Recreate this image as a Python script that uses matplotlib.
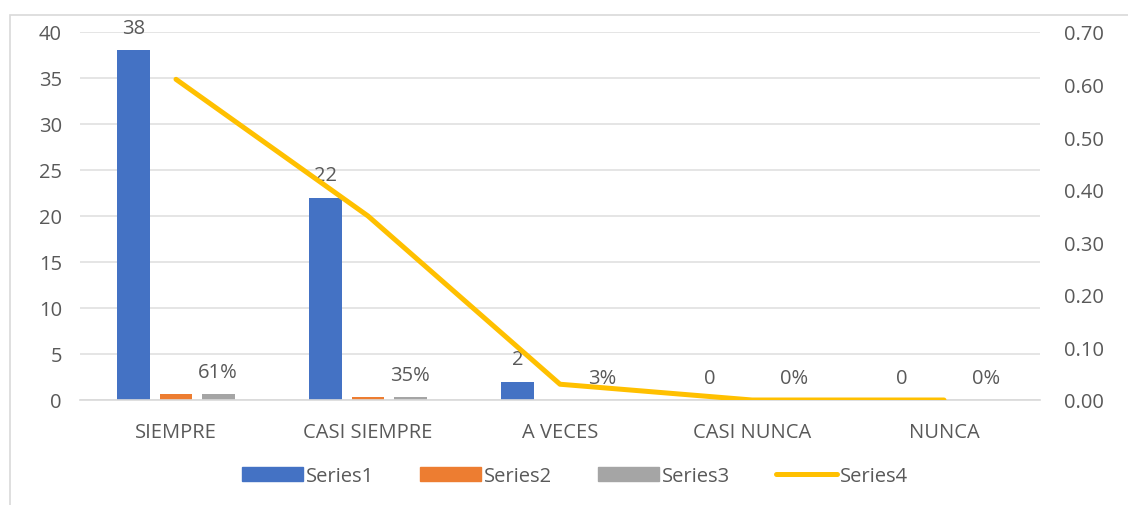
import numpy as np
import matplotlib.pyplot as plt
from matplotlib.patches import Rectangle, Patch
from matplotlib.lines import Line2D

categories = ["SIEMPRE", "CASI SIEMPRE", "A VECES", "CASI NUNCA", "NUNCA"]
series1 = [38, 22, 2, 0, 0]
series2 = [0.61, 0.35, 0.03, 0, 0]
series3 = [0.61, 0.35, 0.03, 0, 0]
series4 = [0.61, 0.35, 0.03, 0, 0]
series3_labels = ["61%", "35%", "3%", "0%", "0%"]

plt.rcParams['font.family'] = ['Open Sans', 'DejaVu Sans']
txt = "#595959"
fs = 14.5

fig = plt.figure(figsize=(11.28, 5.06), dpi=100)
ax = fig.add_axes([80 / 1128, 1 - 401 / 506, 960 / 1128, 368 / 506])
ax2 = ax.twinx()

# figure border
fig.patches.append(Rectangle((10 / 1128, -0.1), 1.2, 1 - 16 / 506 + 0.1,
                             transform=fig.transFigure, fill=False,
                             edgecolor="#D9D9D9", linewidth=1.2))

x = np.arange(len(categories))
w = 0.17
step = 0.22
ax.bar(x - step, series1, w, color="#4472C4", zorder=2)
ax.bar(x, series2, w, color="#ED7D31", zorder=2)
ax.bar(x + step, series3, w, color="#A5A5A5", zorder=2)

for xi, v in zip(x, series1):
    ax.annotate(str(v), (xi - step, v), xytext=(0, 16), textcoords="offset points",
                ha="center", va="center", fontsize=fs, color=txt)
for xi, v, lab in zip(x, series3, series3_labels):
    ax.annotate(lab, (xi + step, v), xytext=(0, 16), textcoords="offset points",
                ha="center", va="center", fontsize=fs, color=txt)

ax2.plot(x, series4, color="#FFC000", linewidth=3.6, solid_capstyle="round", zorder=3)

ax.set_xlim(-0.5, 4.5)
ax.set_ylim(0, 40)
ax.set_yticks(range(0, 41, 5))
ax2.set_ylim(0, 0.70)
ax2.set_yticks(np.arange(0, 0.71, 0.1))
ax2.set_yticklabels([f"{t:.2f}" for t in np.arange(0, 0.71, 0.1)])

ax.set_xticks(x)
ax.set_xticklabels(categories)
ax.yaxis.grid(True, color="#DEDEDE", linewidth=1.1, zorder=0)
ax.set_axisbelow(True)
for a in (ax, ax2):
    for s in a.spines.values():
        s.set_visible(False)
    a.tick_params(length=0, labelsize=fs, labelcolor=txt)
ax.spines["bottom"].set_visible(True)
ax.spines["bottom"].set_color("#D9D9D9")
ax.spines["bottom"].set_linewidth(1.2)
ax.tick_params(axis="y", pad=13)
ax.tick_params(axis="x", pad=16)
ax2.tick_params(axis="y", pad=17)

handles = [Patch(color="#4472C4"), Patch(color="#ED7D31"), Patch(color="#A5A5A5"),
           Line2D([], [], color="#FFC000", linewidth=3.6, solid_capstyle="round")]
fig.legend(handles, ["Series1", "Series2", "Series3", "Series4"], loc="center",
           bbox_to_anchor=(575 / 1128, 1 - 477 / 506), ncol=4, frameon=False,
           fontsize=fs, labelcolor=txt, handlelength=3.0, handleheight=0.75,
           handletextpad=0.15, columnspacing=2.3)

fig.savefig("out.png", dpi=100)
